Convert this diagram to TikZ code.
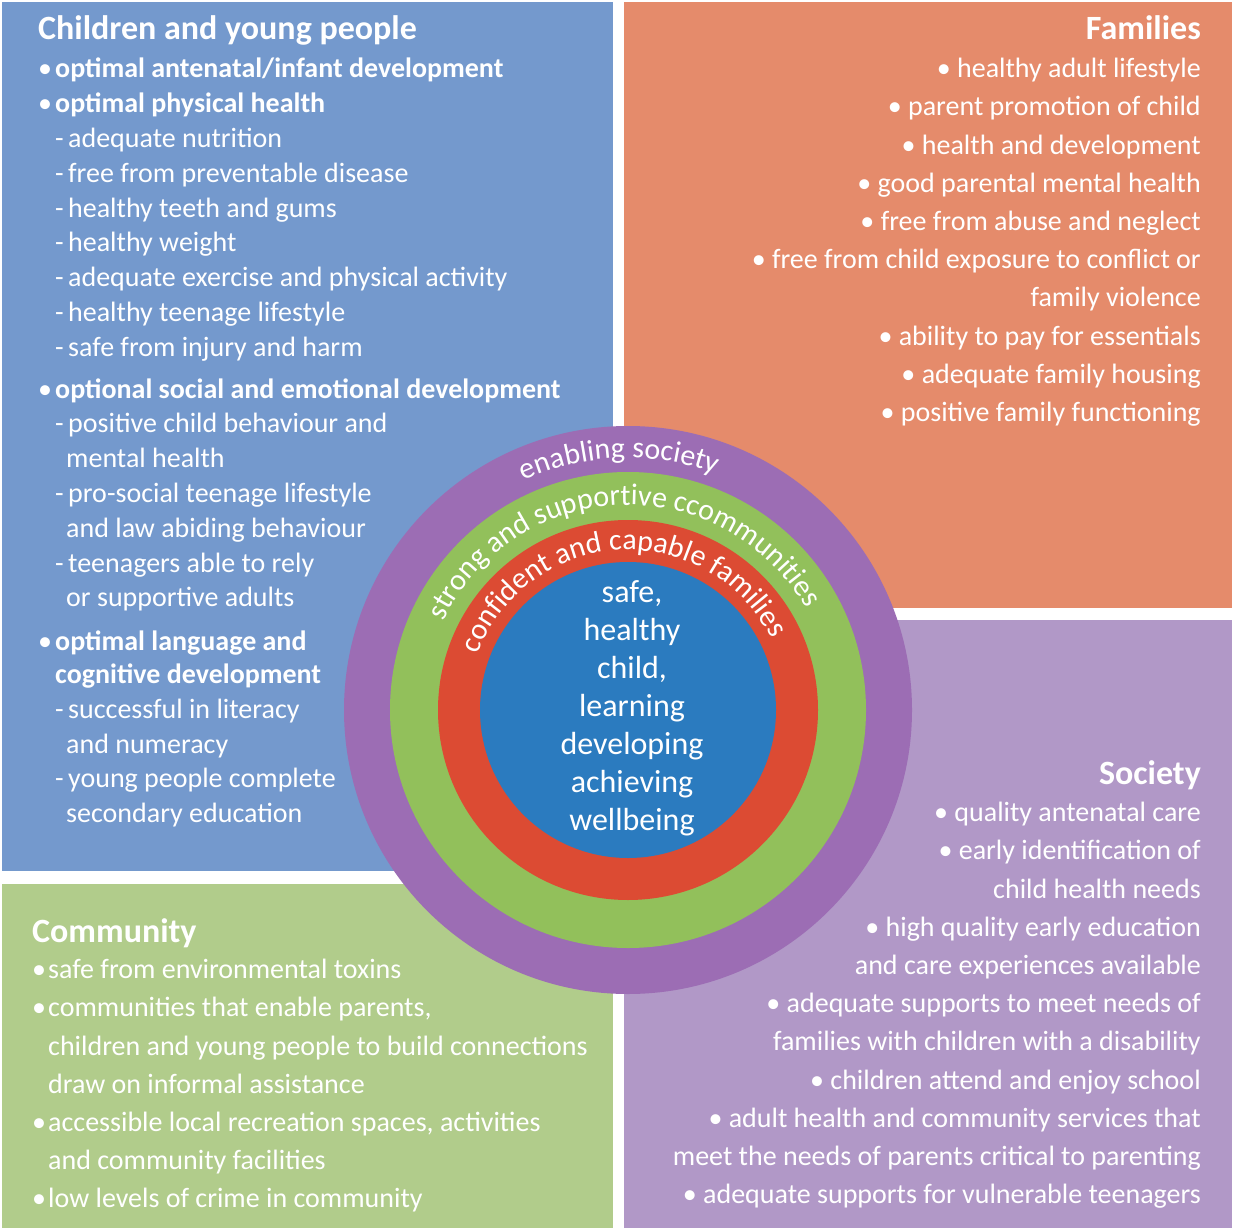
\documentclass[tikz,border=0pt]{standalone}
\usepackage{fontspec}
\setmainfont{Carlito}
\usetikzlibrary{decorations.text}
\definecolor{cypblue}{HTML}{7499CD}
\definecolor{famorange}{HTML}{E58B6B}
\definecolor{comgreen}{HTML}{B1CC8B}
\definecolor{soclilac}{HTML}{B198C7}
\definecolor{ringpurple}{HTML}{9C6DB4}
\definecolor{ringgreen}{HTML}{92C05B}
\definecolor{ringred}{HTML}{DC4B33}
\definecolor{coreblue}{HTML}{2B7BBF}
\tikzstyle{title} = [inner sep=0pt,text=white,font=\fontsize{34}{34}\selectfont\bfseries]
\tikzstyle{list} = [inner sep=0pt,text=white,font=\fontsize{28}{38.2}\selectfont]
\newcommand{\bul}{\makebox[17pt][l]{\textbullet}}
\newcommand{\dsh}{\hspace*{17pt}\makebox[13pt][l]{-}}
\newcommand{\cont}{\hspace*{28pt}}
\newcommand{\ringtext}{\color{white}\fontsize{30}{30}\selectfont}

\begin{document}
\begin{tikzpicture}[x=1pt,y=-1pt]
  \useasboundingbox (0,0) rectangle (1233,1230);
  \fill[cypblue] (2,2) rectangle (613,871);
  \fill[famorange] (624,2) rectangle (1232,608);
  \fill[comgreen] (2,884) rectangle (613,1228);
  \fill[soclilac] (624,620) rectangle (1232,1228);

  \node[title, anchor=base west] (cyptitle) at (38,40) {Children and young people};
  \node[list, anchor=north west, align=left, font=\fontsize{28}{34.8}\selectfont] (cyplist) at (38,58) {%
    \bul\textbf{optimal antenatal/infant development}\\
    \bul\textbf{optimal physical health}\\
    \dsh adequate nutrition\\
    \dsh free from preventable disease\\
    \dsh healthy teeth and gums\\
    \dsh healthy weight\\
    \dsh adequate exercise and physical activity\\
    \dsh healthy teenage lifestyle\\
    \dsh safe from injury and harm\\[7pt]
    \bul\textbf{optional social and emotional development}\\
    \dsh positive child behaviour and\\
    \cont mental health\\
    \dsh pro-social teenage lifestyle\\
    \cont and law abiding behaviour\\
    \dsh teenagers able to rely\\
    \cont or supportive adults\\[9pt]
    \bul\textbf{optimal language and}\\[-2pt]
    \hspace*{17pt}\textbf{cognitive development}\\
    \dsh successful in literacy\\
    \cont and numeracy\\
    \dsh young people complete\\
    \cont secondary education};

  \node[title, anchor=base east] (famtitle) at (1201,40) {Families};
  \node[list, anchor=north east, align=right] (famlist) at (1201,58) {%
    \textbullet\ healthy adult lifestyle\\
    \textbullet\ parent promotion of child\\
    \textbullet\ health and development\\
    \textbullet\ good parental mental health\\
    \textbullet\ free from abuse and neglect\\
    \textbullet\ free from child exposure to conflict or\\
    family violence\\
    \textbullet\ ability to pay for essentials\\
    \textbullet\ adequate family housing\\
    \textbullet\ positive family functioning};

  \node[title, anchor=base west] (comtitle) at (32,942) {Community};
  \node[list, anchor=north west, align=left] (comlist) at (32,959) {%
    \makebox[16pt][l]{\textbullet}safe from environmental toxins\\
    \makebox[16pt][l]{\textbullet}communities that enable parents,\\
    \hspace*{16pt}children and young people to build connections\\
    \hspace*{16pt}draw on informal assistance\\
    \makebox[16pt][l]{\textbullet}accessible local recreation spaces, activities\\
    \hspace*{16pt}and community facilities\\
    \makebox[16pt][l]{\textbullet}low levels of crime in community};

  \node[title, anchor=base east] (soctitle) at (1201,784) {Society};
  \node[list, anchor=north east, align=right] (soclist) at (1201,802) {%
    \textbullet\ quality antenatal care\\
    \textbullet\ early identification of\\
    child health needs\\
    \textbullet\ high quality early education\\
    and care experiences available\\
    \textbullet\ adequate supports to meet needs of\\
    families with children with a disability\\
    \textbullet\ children attend and enjoy school\\
    \textbullet\ adult health and community services that\\
    meet the needs of parents critical to parenting\\
    \textbullet\ adequate supports for vulnerable teenagers};

  % rings
  \fill[ringpurple] (628,710) circle[radius=284];
  \fill[ringgreen] (628,710) circle[radius=238];
  \fill[ringred] (628,710) circle[radius=190];
  \fill[coreblue] (628,710) circle[radius=148];

  \path[decorate, decoration={text along path, text align=center,
      text={|\ringtext|enabling society}}]
    (628,710) ++(-172:252) arc[start angle=-172, end angle=-12, radius=252];
  \path[decorate, decoration={text along path, text align=center,
      text={|\ringtext|strong and supportive ccommunities}}]
    (628,710) ++(-178:205) arc[start angle=-178, end angle=-6, radius=205];
  \path[decorate, decoration={text along path, text align=center,
      text={|\ringtext|confident and capable families}}]
    (628,710) ++(-178:160) arc[start angle=-178, end angle=-8, radius=160];

  \node[inner sep=0pt, text=white, align=center, font=\fontsize{32}{38}\selectfont]
    (core) at (632,708) {safe,\\healthy\\child,\\learning\\developing\\achieving\\wellbeing};
\end{tikzpicture}
\end{document}
